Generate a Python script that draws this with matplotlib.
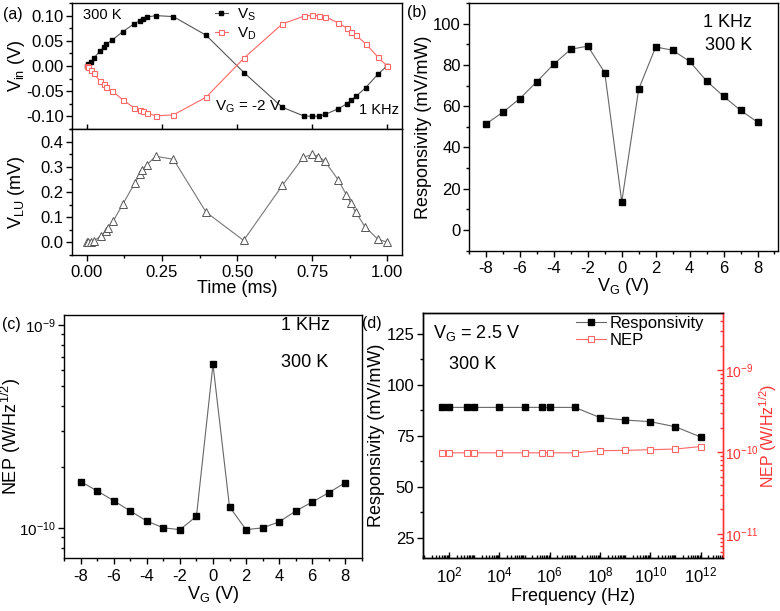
import matplotlib
matplotlib.use('Agg')
import matplotlib.pyplot as plt
import numpy as np
from matplotlib.ticker import MultipleLocator, LogLocator, FixedLocator, NullFormatter, FormatStrFormatter

plt.rcParams['font.family'] = ['Liberation Sans', 'DejaVu Sans']
plt.rcParams['mathtext.fontset'] = 'custom'
plt.rcParams['mathtext.rm'] = 'Liberation Sans'
plt.rcParams['mathtext.it'] = 'Liberation Sans:italic'
plt.rcParams['mathtext.bf'] = 'Liberation Sans:bold'
plt.rcParams['axes.unicode_minus'] = False

# ---------------- data ----------------
t_a = [0.0, 0.005, 0.012, 0.022, 0.042, 0.057, 0.064, 0.085, 0.119, 0.158, 0.176, 0.186,
       0.200, 0.229, 0.288, 0.397, 0.523, 0.651, 0.722, 0.751, 0.772, 0.794, 0.837, 0.865,
       0.880, 0.897, 0.929, 0.970, 1.0]
v_s = [0.0, 0.004, 0.0075, 0.015, 0.029, 0.037, 0.043, 0.052, 0.068, 0.084, 0.090, 0.093,
       0.097, 0.100, 0.098, 0.061, -0.013, -0.082, -0.099, -0.100, -0.0995, -0.096, -0.085,
       -0.0755, -0.068, -0.060, -0.043, -0.016, 0.0]
v_d = [0.0, -0.003, -0.007, -0.014, -0.029, -0.035, -0.042, -0.050, -0.067, -0.0835, -0.088,
       -0.090, -0.093, -0.099, -0.097, -0.062, 0.0155, 0.0835, 0.0986, 0.1006, 0.0994, 0.098,
       0.0855, 0.0756, 0.068, 0.061, 0.044, 0.0175, 0.0]

t_lu = [0.0, 0.005, 0.012, 0.023, 0.047, 0.062, 0.070, 0.087, 0.119, 0.160, 0.176, 0.184,
        0.200, 0.229, 0.288, 0.397, 0.522, 0.651, 0.721, 0.751, 0.771, 0.793, 0.837, 0.864,
        0.879, 0.895, 0.927, 0.970, 1.0]
v_lu = [0.0, 0.001, 0.003, 0.006, 0.026, 0.045, 0.058, 0.084, 0.151, 0.237, 0.270, 0.287,
        0.309, 0.342, 0.330, 0.120, 0.008, 0.226, 0.338, 0.349, 0.341, 0.322, 0.249, 0.190,
        0.156, 0.121, 0.062, 0.012, 0.002]

vg = [-8, -7, -6, -5, -4, -3, -2, -1, 0, 1, 2, 3, 4, 5, 6, 7, 8]
resp_vg = [51.4, 57.1, 63.7, 71.9, 80.4, 87.6, 89.1, 76.2, 13.7, 68.3, 88.7, 87.1, 81.7,
           72.2, 64.8, 58.0, 52.3]
nep_vg = [1.69e-10, 1.52e-10, 1.36e-10, 1.21e-10, 1.08e-10, 1.00e-10, 0.98e-10, 1.14e-10,
          6.4e-10, 1.27e-10, 0.98e-10, 1.00e-10, 1.07e-10, 1.21e-10, 1.34e-10, 1.49e-10,
          1.67e-10]

freq = [50, 100, 500, 1e3, 1e4, 1e5, 5e5, 1e6, 1e7, 1e8, 1e9, 1e10, 1e11, 1e12]
resp_f = [88.9, 88.9, 88.9, 88.9, 88.9, 88.9, 88.9, 88.9, 88.9, 83.9, 82.7, 81.9, 79.4, 74.4]
nep_f = [0.98e-10, 0.98e-10, 0.98e-10, 0.98e-10, 0.98e-10, 0.98e-10, 0.98e-10, 0.98e-10,
         0.98e-10, 1.04e-10, 1.05e-10, 1.07e-10, 1.09e-10, 1.17e-10]

LINE_GRAY = '#555555'
RED = '#ff3333'
LRED = '#ff6666'
TICK_FS = 12
LAB_FS = 13
TXT_FS = 13


def style(ax, fs=TICK_FS):
    ax.tick_params(which='both', direction='out', top=False, right=False, labelsize=fs, width=1)
    ax.tick_params(which='major', length=4)
    ax.tick_params(which='minor', length=2.2)
    for s in ax.spines.values():
        s.set_linewidth(1.0)
    ax.xaxis.get_offset_text().set_visible(False)
    ax.yaxis.get_offset_text().set_visible(False)


fig = plt.figure(figsize=(7.8, 6.11), dpi=100)

# ---------------- panel (a) top ----------------
ax1 = fig.add_axes([0.0923, 0.7889, 0.4231, 0.2062])
style(ax1)
ax1.plot(t_a, v_s, '-s', color=LINE_GRAY, lw=0.8, mfc='black', mec='black', ms=3.4,
         label='V$_{\\rm S}$')
ax1.plot(t_a, v_d, '-s', color=LRED, lw=0.8, mfc='white', mec=LRED, ms=3.6, mew=0.8,
         label='V$_{\\rm D}$')
ax1.set_xlim(-0.05, 1.05)
ax1.set_ylim(-0.125, 0.125)
ax1.set_yticks([-0.10, -0.05, 0.0, 0.05, 0.10])
ax1.yaxis.set_major_formatter(FormatStrFormatter('%.2f'))
ax1.yaxis.set_minor_locator(MultipleLocator(0.025))
ax1.xaxis.set_major_locator(MultipleLocator(0.25))
ax1.xaxis.set_minor_locator(MultipleLocator(0.125))
ax1.tick_params(axis='x', which='major', direction='inout', length=7)
ax1.tick_params(axis='x', labelbottom=False)
ax1.tick_params(axis='y', pad=2)
ax1.set_ylabel('V$_{\\rm in}$ (V)', fontsize=LAB_FS, labelpad=1)
ax1.text(0.033, 0.905, '300 K', transform=ax1.transAxes, fontsize=10.5, va='center', ha='left')
ax1.text(0.99, 0.15, '1 KHz', transform=ax1.transAxes, fontsize=10.5, va='center', ha='right')
ax1.text(0.433, 0.175, 'V$_{\\rm G}$ = -2 V', transform=ax1.transAxes, fontsize=11,
         va='center', ha='left')
ax1.legend(loc='upper left', bbox_to_anchor=(0.432, 0.975), frameon=False, fontsize=11,
           handlelength=0.85, handletextpad=0.6, labelspacing=0.2, borderpad=0,
           borderaxespad=0)

# ---------------- panel (a) bottom ----------------
ax2 = fig.add_axes([0.0923, 0.5826, 0.4231, 0.2062])
style(ax2)
ax2.plot(t_lu, v_lu, '-^', color='#777777', lw=0.8, mfc='white', mec='#555555', ms=5.5,
         mew=0.7)
ax2.set_xlim(-0.05, 1.05)
ax2.set_ylim(-0.05, 0.45)
ax2.set_yticks([0.0, 0.1, 0.2, 0.3, 0.4])
ax2.yaxis.set_major_formatter(FormatStrFormatter('%.1f'))
ax2.yaxis.set_minor_locator(MultipleLocator(0.05))
ax2.set_xticks([0.0, 0.25, 0.5, 0.75, 1.0])
ax2.xaxis.set_major_formatter(FormatStrFormatter('%.2f'))
ax2.xaxis.set_minor_locator(MultipleLocator(0.125))
ax2.tick_params(axis='y', pad=2)
ax2.set_xlabel('Time (ms)', fontsize=LAB_FS, labelpad=0)
ax2.set_ylabel('V$_{\\rm LU}$ (mV)', fontsize=LAB_FS)
ax2.yaxis.set_label_coords(-0.135, 0.5)
ax1.yaxis.set_label_coords(-0.135, 0.5)

# ---------------- panel (b) ----------------
axb = fig.add_axes([0.6013, 0.5897, 0.396, 0.4054])
style(axb)
axb.plot(vg, resp_vg, '-s', color='#666666', lw=0.8, mfc='black', mec='black', ms=3.8)
axb.set_xlim(-9, 9.2)
axb.set_ylim(-10, 110)
axb.set_xticks(range(-8, 9, 2))
axb.xaxis.set_minor_locator(MultipleLocator(1))
axb.set_yticks(range(0, 101, 20))
axb.yaxis.set_minor_locator(MultipleLocator(10))
axb.tick_params(axis='y', pad=2)
axb.set_xlabel('V$_{\\rm G}$ (V)', fontsize=LAB_FS, labelpad=0)
axb.set_ylabel('Responsivity (mV/mW)', fontsize=LAB_FS)
axb.yaxis.set_label_coords(-0.12, 0.5)
axb.text(0.916, 0.923, '1 KHz', transform=axb.transAxes, fontsize=TXT_FS, va='center', ha='right')
axb.text(0.916, 0.83, '300 K', transform=axb.transAxes, fontsize=TXT_FS, va='center', ha='right')

# ---------------- panel (c) ----------------
axc = fig.add_axes([0.0824, 0.0863, 0.3813, 0.3982])
style(axc)
axc.semilogy(vg, nep_vg, '-s', color='#666666', lw=0.8, mfc='black', mec='black', ms=3.8)
axc.set_xlim(-9, 9)
axc.set_ylim(10 ** -10.15, 10 ** -8.95)
axc.set_xticks(range(-8, 9, 2))
axc.xaxis.set_minor_locator(MultipleLocator(1))
axc.yaxis.set_major_locator(LogLocator(base=10, numticks=10))
axc.yaxis.set_minor_locator(LogLocator(base=10, subs=np.arange(2, 10), numticks=20))
axc.yaxis.set_minor_formatter(NullFormatter())
axc.tick_params(axis='y', labelsize=11, pad=2)
axc.set_xlabel('V$_{\\rm G}$ (V)', fontsize=LAB_FS, labelpad=0)
axc.set_ylabel('NEP (W/Hz$^{1/2}$)', fontsize=LAB_FS)
axc.yaxis.set_label_coords(-0.14, 0.5)
axc.text(0.73, 0.955, '1 KHz', transform=axc.transAxes, fontsize=TXT_FS, va='center', ha='left')
axc.text(0.73, 0.805, '300 K', transform=axc.transAxes, fontsize=TXT_FS, va='center', ha='left')

# ---------------- panel (d) ----------------
axd = fig.add_axes([0.5419, 0.0863, 0.3854, 0.401])
style(axd)
l1, = axd.semilogx(freq, resp_f, '-s', color='#666666', lw=0.8, mfc='black', mec='black',
                   ms=3.8, label='Responsivity')
axd.set_xlim(10 ** 0.95, 10 ** 12.9)
axd.set_ylim(15, 135)
axd.set_yticks([25, 50, 75, 100, 125])
axd.yaxis.set_minor_locator(MultipleLocator(12.5))
axd.xaxis.set_major_locator(FixedLocator([10.0 ** k for k in range(2, 13, 2)]))
axd.xaxis.set_minor_locator(LogLocator(base=10, subs=np.arange(1, 10), numticks=100))
axd.xaxis.set_minor_formatter(NullFormatter())
axd.tick_params(axis='x', which='both', direction='in', pad=5)
axd.tick_params(axis='y', pad=2)
axd.set_xlabel('Frequency (Hz)', fontsize=LAB_FS, labelpad=2)
axd.set_ylabel('Responsivity (mV/mW)', fontsize=LAB_FS)
axd.yaxis.set_label_coords(-0.125, 0.5)
axd.spines['right'].set_color(RED)

axd2 = axd.twinx()
style(axd2, 10)
axd2.tick_params(which='both', right=True, left=False, labelright=True, labelleft=False,
                 colors=RED, direction='in', pad=1)
l2, = axd2.semilogy(freq, nep_f, '-s', color=LRED, lw=0.8, mfc='white', mec=LRED, ms=3.8,
                    mew=0.8, label='NEP')
axd2.set_ylim(10 ** -11.3, 10 ** -8.3)
axd2.yaxis.set_major_locator(LogLocator(base=10, numticks=10))
axd2.yaxis.set_minor_locator(LogLocator(base=10, subs=np.arange(2, 10), numticks=20))
axd2.yaxis.set_minor_formatter(NullFormatter())
axd2.spines['right'].set_color(RED)
axd2.set_ylabel('NEP (W/Hz$^{1/2}$)', fontsize=11.5, color=RED)
axd2.yaxis.set_label_coords(1.112, 0.5)
axd2.legend([l1, l2], ['Responsivity', 'NEP'], loc='upper left', bbox_to_anchor=(0.51, 0.99),
            frameon=False, fontsize=12, handlelength=1.8, handletextpad=0.2,
            labelspacing=0.15, borderpad=0, borderaxespad=0)
axd.text(0.034, 0.92, 'V$_{\\rm G}$ = 2.5 V', transform=axd.transAxes, fontsize=TXT_FS,
         va='center', ha='left')
axd.text(0.087, 0.79, '300 K', transform=axd.transAxes, fontsize=TXT_FS, va='center', ha='left')

# ---------------- panel labels ----------------
fig.text(3 / 780, 1 - 14 / 611, '(a)', fontsize=11.5, va='center', ha='left')
fig.text(407 / 780, 1 - 13 / 611, '(b)', fontsize=11.5, va='center', ha='left')
fig.text(2 / 780, 1 - 325 / 611, '(c)', fontsize=11.5, va='center', ha='left')
fig.text(362 / 780, 1 - 323 / 611, '(d)', fontsize=11.5, va='center', ha='left')

fig.savefig('out.png', dpi=100)
